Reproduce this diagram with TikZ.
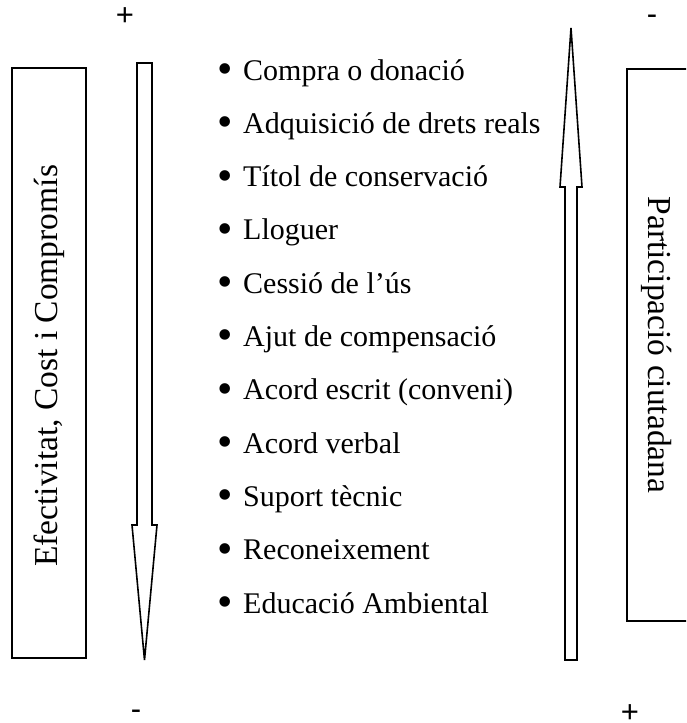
\documentclass[tikz,border=0pt]{standalone}
\usepackage{fontspec}
\setmainfont{Liberation Serif}
\newfontfamily\signfont{Liberation Sans}
\usetikzlibrary{calc}
\tikzstyle{sidebox} = [draw=black, line width=1.6pt]
\tikzstyle{arrowshape} = [draw=black, line width=1.6pt, line join=miter]
\tikzstyle{sidetext} = [font=\fontsize{33.5}{38}\selectfont, inner sep=0pt]
\tikzstyle{listitem} = [font=\fontsize{30}{36}\selectfont, anchor=base west, inner sep=0pt]
\tikzstyle{bulletmark} = [font=\fontsize{44}{48}\selectfont, anchor=center, inner sep=0pt]
\tikzstyle{signtext} = [font=\signfont\fontsize{31}{34}\selectfont, anchor=center, inner sep=0pt]

\begin{document}
\begin{tikzpicture}[x=1pt,y=-1pt]
	\useasboundingbox (0,0) rectangle (686,723);
	\clip (0,0) rectangle (686,723);
	% side boxes
	\draw [sidebox] (12,68) rectangle (86,658);
	\draw [sidebox] (627,69) rectangle (700,621);
	\node (EFF) [sidetext, rotate=90] at (49,366) {Efectivitat, Cost i Compromís};
	\node (PART) [sidetext, rotate=-90] at (657,345) {Participació ciutadana};
	% arrows
	\draw [arrowshape] (137,63) -- (152,63) -- (152,525) -- (157,525) -- (144.5,660) -- (132,525) -- (137,525) -- cycle;
	\draw [arrowshape] (565,660) -- (577,660) -- (577,187) -- (582,187) -- (571,28) -- (560,187) -- (565,187) -- cycle;
	% signs
	\node (PLUSTOP) [signtext] at (125,17) {+};
	\node (MINUSTOP) [signtext] at (652,20) {-};
	\node (MINUSBOT) [signtext] at (136,715) {-};
	\node (PLUSBOT) [signtext] at (630,714) {+};
	% list
	\foreach \txt [count=\i] in {Compra o donació, Adquisició de drets reals, Títol de conservació, Lloguer, Cessió de l’ús, Ajut de compensació, Acord escrit (conveni), Acord verbal, Suport tècnic, Reconeixement, Educació Ambiental} {
		\node (B\i) [bulletmark] at (225.5, {73.5+53.3*(\i-1)}) {\textbullet};
		\node (L\i) [listitem] at (243, {80+53.3*(\i-1)}) {\txt};
	}
\end{tikzpicture}
\end{document}
